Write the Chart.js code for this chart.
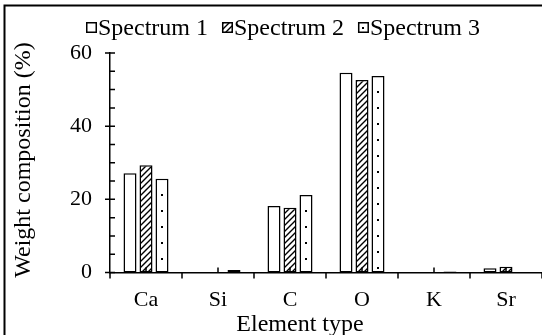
<!DOCTYPE html>
<html>
<head>
<meta charset="utf-8">
<script src="https://cdn.jsdelivr.net/npm/chart.js@4"></script>
<style>
  html, body { margin: 0; padding: 0; background: #fff; }
  canvas { display: block; }
</style>
</head>
<body>
<canvas id="c" width="542" height="335"></canvas>
<script>
// Element composition per spectrum (weight %)
const categories = ['Ca', 'Si', 'C', 'O', 'K', 'Sr'];
const seriesNames = ['Spectrum 1', 'Spectrum 2', 'Spectrum 3'];
const spectrum1 = [27.1, 0, 18.2, 54.6, 0, 1.15];
const spectrum2 = [29.3, 0, 17.7, 52.6, 0, 1.6];
const spectrum3 = [25.6, 0.7, 21.2, 53.7, 0.3, 0];
const yTickValues = [0, 20, 40, 60];
const xTitle = 'Element type';
const yTitle = 'Weight composition (%)';

const FONT = '"Liberation Serif", "Times New Roman", serif';
const canvas = document.getElementById('c');
const ctx2d = canvas.getContext('2d');

// diagonal hatch fill
function makeHatch() {
  const s = 6;
  const tile = document.createElement('canvas');
  tile.width = s; tile.height = s;
  const g = tile.getContext('2d');
  g.fillStyle = '#fff';
  g.fillRect(0, 0, s, s);
  g.strokeStyle = '#000';
  g.lineWidth = 1.4;
  g.beginPath();
  g.moveTo(0, s); g.lineTo(s, 0);
  g.moveTo(-1, 1); g.lineTo(1, -1);
  g.moveTo(s - 1, s + 1); g.lineTo(s + 1, s - 1);
  g.stroke();
  return ctx2d.createPattern(tile, 'repeat');
}
const hatch = makeHatch();
const fills = ['#ffffff', hatch, '#ffffff'];

function drawDot(g, x, y) {
  g.fillStyle = '#000';
  g.fillRect(Math.round(x) - 1, Math.round(y) - 1, 2, 2);
}

const decorations = {
  id: 'decorations',
  afterDatasetsDraw(chart) {
    // dotted fill of the third series, anchored at each bar's top
    const g = chart.ctx;
    const meta = chart.getDatasetMeta(2);
    meta.data.forEach(bar => {
      const top = Math.min(bar.y, bar.base);
      const base = Math.max(bar.y, bar.base);
      for (let y = top + 16; y < base - 3; y += 16) drawDot(g, bar.x, y);
    });
  },
  afterDraw(chart) {
    const g = chart.ctx;
    const area = chart.chartArea;
    const xs = chart.scales.x, ys = chart.scales.y;
    g.save();
    g.strokeStyle = '#000';
    g.lineWidth = 1.5;
    g.beginPath();
    // y ticks: majors cross the axis, minors point inward
    for (let v = 0; v <= 60; v += 5) {
      const py = ys.getPixelForValue(v);
      if (v % 20 === 0) { g.moveTo(area.left - 5, py); g.lineTo(area.left + 5, py); }
      else { g.moveTo(area.left, py); g.lineTo(area.left + 5, py); }
    }
    // x ticks: boundaries point outward, centres point inward
    for (let i = 0; i <= categories.length; i++) {
      const px = xs.getPixelForValue(i - 0.5);
      g.moveTo(px, area.bottom); g.lineTo(px, area.bottom + 6);
    }
    for (let i = 0; i < categories.length; i++) {
      const px = xs.getPixelForValue(i);
      g.moveTo(px, area.bottom); g.lineTo(px, area.bottom - 5);
    }
    g.stroke();

    // figure frame
    g.lineWidth = 2;
    g.beginPath();
    g.moveTo(4.5, 340); g.lineTo(4.5, 5.5); g.lineTo(545, 5.5);
    g.stroke();

    // legend
    g.font = '24px ' + FONT;
    g.textBaseline = 'alphabetic';
    g.textAlign = 'left';
    let lx = 86;
    seriesNames.forEach((name, i) => {
      g.fillStyle = fills[i];
      g.fillRect(lx, 22, 11, 11);
      g.lineWidth = 1.5;
      g.strokeRect(lx + 0.75, 22.75, 9.5, 9.5);
      if (i === 2) drawDot(g, lx + 5.5, 28);
      g.fillStyle = '#000';
      g.fillText(name, lx + 12, 35);
      lx += 12 + g.measureText(name).width + 14;
    });

    // axis titles
    g.textAlign = 'center';
    g.fillText(xTitle, 300, 331);
    g.translate(30, 160);
    g.rotate(-Math.PI / 2);
    g.fillText(yTitle, 0, 0);
    g.restore();
  }
};

const makeDataset = (label, data, i) => ({
  label, data,
  backgroundColor: fills[i],
  borderColor: '#000',
  borderWidth: 1.5,
  borderSkipped: false,
  barPercentage: 0.8125,
  categoryPercentage: 48 / 72
});

new Chart(canvas, {
  type: 'bar',
  data: {
    labels: categories,
    datasets: [
      makeDataset(seriesNames[0], spectrum1, 0),
      makeDataset(seriesNames[1], spectrum2, 1),
      makeDataset(seriesNames[2], spectrum3, 2)
    ]
  },
  options: {
    responsive: false,
    animation: false,
    devicePixelRatio: 1,
    layout: { padding: { left: 0, right: 0, top: 53, bottom: 0 } },
    plugins: { legend: { display: false }, tooltip: { enabled: false } },
    scales: {
      x: {
        grid: { display: false, drawTicks: true, tickLength: 6 },
        border: { display: true, color: '#000', width: 1.5 },
        ticks: { color: '#000', font: { family: FONT, size: 22 }, padding: 9, maxRotation: 0 },
        afterFit(scale) { scale.height = 62.5; }
      },
      y: {
        min: 0, max: 60,
        afterBuildTicks(scale) { scale.ticks = yTickValues.map(v => ({ value: v })); },
        grid: { display: false, drawTicks: true, tickLength: 5 },
        border: { display: true, color: '#000', width: 1.5 },
        ticks: { color: '#000', font: { family: FONT, size: 22 }, padding: 13 },
        afterFit(scale) { scale.width = 110; }
      }
    }
  },
  plugins: [decorations]
});
</script>
</body>
</html>
